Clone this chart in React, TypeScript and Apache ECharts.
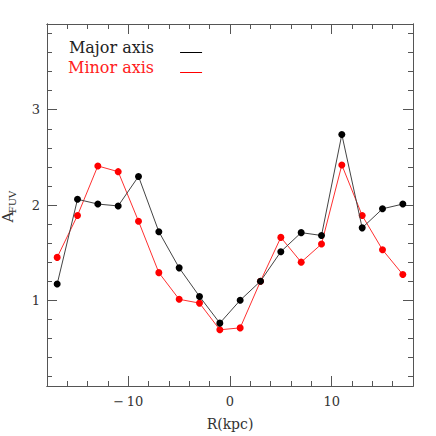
import React, { useEffect, useRef } from "react";
import * as echarts from "echarts";

const radii = [-17, -15, -13, -11, -9, -7, -5, -3, -1, 1, 3, 5, 7, 9, 11, 13, 15, 17];
const majorAxis = [1.17, 2.06, 2.01, 1.99, 2.3, 1.72, 1.34, 1.04, 0.76, 1.0, 1.2, 1.51, 1.71, 1.68, 2.74, 1.76, 1.96, 2.01];
const minorAxis = [1.45, 1.89, 2.41, 2.35, 1.83, 1.29, 1.01, 0.97, 0.69, 0.71, 1.2, 1.66, 1.4, 1.59, 2.42, 1.89, 1.53, 1.27];

const xMajorTicks = [-10, 0, 10];
const xMinorTicks = [-16, -14, -12, -8, -6, -4, -2, 2, 4, 6, 8, 12, 14, 16];
const yMajorTicks = [1, 2, 3];
const yMinorTicks = [0.2, 0.4, 0.6, 0.8, 1.2, 1.4, 1.6, 1.8, 2.2, 2.4, 2.6, 2.8, 3.2, 3.4, 3.6, 3.8];

const FONT = "DejaVu Serif";
const AXIS_COLOR = "#555";

function fmt(v: number): string {
  return v < 0 ? "\u2212\u2009" + String(-v) : String(v);
}

function makeAxis(
  kind: "x" | "y",
  position: string,
  ticks: number[],
  length: number,
  labels: boolean,
  extra: any = {}
) {
  const range = kind === "x" ? { min: -18, max: 18 } : { min: 0.1, max: 3.9 };
  return {
    type: "value",
    position,
    ...range,
    axisLine: { show: true, onZero: false, lineStyle: { color: AXIS_COLOR, width: 1 } },
    axisTick: {
      show: true,
      inside: true,
      length,
      customValues: ticks,
      lineStyle: { color: AXIS_COLOR, width: 1 },
    },
    axisLabel: labels
      ? {
          show: true,
          customValues: ticks,
          formatter: fmt,
          fontFamily: FONT,
          fontSize: 13,
          color: "#333",
          margin: kind === "x" ? 9 : 7,
        }
      : { show: false },
    splitLine: { show: false },
    ...extra,
  };
}

export default function App() {
  const ref = useRef<HTMLDivElement>(null);
  useEffect(() => {
    if (!ref.current) return;
    const chart = echarts.init(ref.current, null, { renderer: "svg" });
    const option: any = {
      animation: false,
      backgroundColor: "#fff",
      grid: { left: 47, top: 24, width: 366, height: 365, containLabel: false },
      xAxis: [
        makeAxis("x", "bottom", xMajorTicks, 10, true, {
          name: "R(kpc)",
          nameLocation: "middle",
          nameGap: 31,
          nameTextStyle: { fontFamily: FONT, fontSize: 14, color: "#333" },
        }),
        makeAxis("x", "bottom", xMinorTicks, 5, false),
        makeAxis("x", "top", xMajorTicks, 10, false),
        makeAxis("x", "top", xMinorTicks, 5, false),
      ],
      yAxis: [
        makeAxis("y", "left", yMajorTicks, 10, true),
        makeAxis("y", "left", yMinorTicks, 5, false),
        makeAxis("y", "right", yMajorTicks, 10, false),
        makeAxis("y", "right", yMinorTicks, 5, false),
      ],
      legend: {
        orient: "vertical",
        left: 68,
        top: 39,
        padding: 0,
        align: "right",
        itemWidth: 22,
        itemHeight: 12,
        itemGap: 4,
        icon: "path://M0,0 L0.01,0 L0.01,0.01 Z M0,11 L22,11 L22,12 L0,12 Z",
        textStyle: { fontFamily: FONT, fontSize: 16, lineHeight: 16, padding: [0, 21, 0, 0] },
        data: [
          { name: "Major axis", textStyle: { color: "#222" } },
          { name: "Minor axis", textStyle: { color: "#ff2020" } },
        ],
      },
      graphic: [
        {
          type: "text",
          x: 8,
          y: 217,
          rotation: Math.PI / 2,
          style: { text: "A", fontFamily: FONT, fontSize: 15, fill: "#333", align: "center", verticalAlign: "middle" },
        },
        {
          type: "text",
          x: 12,
          y: 202,
          rotation: Math.PI / 2,
          style: { text: "FUV", fontFamily: FONT, fontSize: 10, fill: "#333", align: "center", verticalAlign: "middle" },
        },
      ],
      series: [
        {
          name: "Major axis",
          type: "line",
          xAxisIndex: 0,
          yAxisIndex: 0,
          data: radii.map((r, i) => [r, majorAxis[i]]),
          symbol: "circle",
          symbolSize: 7,
          itemStyle: { color: "#000" },
          lineStyle: { color: "#444", width: 1 },
          z: 3,
        },
        {
          name: "Minor axis",
          type: "line",
          xAxisIndex: 0,
          yAxisIndex: 0,
          data: radii.map((r, i) => [r, minorAxis[i]]),
          symbol: "circle",
          symbolSize: 7,
          itemStyle: { color: "#ff0000" },
          lineStyle: { color: "#ff3030", width: 1 },
          z: 2,
        },
      ],
    };
    chart.setOption(option);
    return () => chart.dispose();
  }, []);
  return (
    <div
      ref={ref}
      style={{ position: "fixed", left: 0, top: 0, width: 436, height: 436 }}
    />
  );
}
